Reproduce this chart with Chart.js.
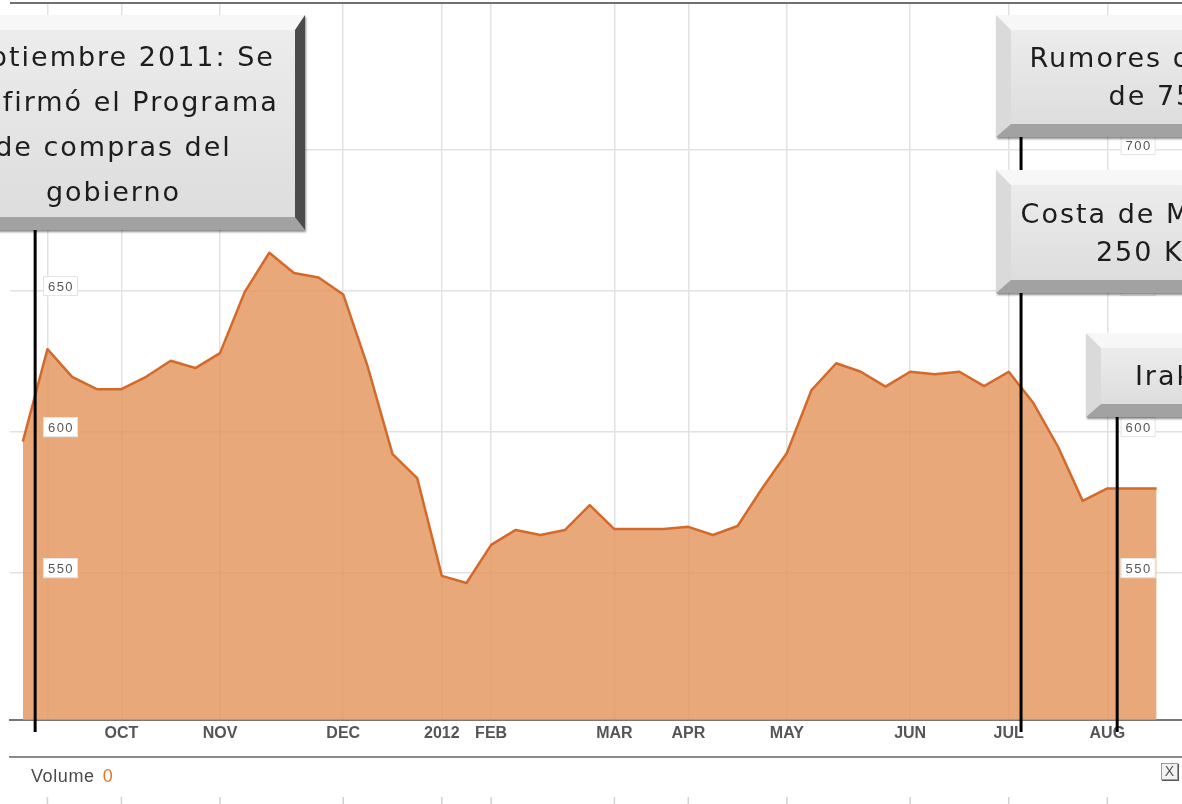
<!DOCTYPE html>
<html>
<head>
<meta charset="utf-8">
<script src="https://cdn.jsdelivr.net/npm/chart.js@4.4.1/dist/chart.umd.min.js"></script>
<style>
    html, body { margin: 0; padding: 0; background: #fff; }
    body { width: 1182px; height: 804px; overflow: hidden; position: relative; font-family: 'Liberation Sans', Arial, sans-serif; }
    #wrap { position: absolute; left: 0; top: 0; width: 1182px; height: 804px; }
    .note {
        position: absolute; box-sizing: border-box;
        display: flex; flex-direction: column; justify-content: center; align-items: center;
        text-align: center; white-space: nowrap;
        font-family: 'DejaVu Sans', sans-serif; font-size: 27px; letter-spacing: 2px; color: #1d1d1d;
        background: linear-gradient(#ececec, #dddddd);
        border-style: solid; border-width: 15px 10px 13px 15px;
        border-color: #f7f7f7 #4b4b4b #a2a2a2 #dadada;
        box-shadow: 1px 2px 2px rgba(0, 0, 0, 0.45);
    }
    .note div { white-space: nowrap; }
    #vol { position: absolute; left: 31px; top: 766px; font-size: 18px; letter-spacing: 0.6px; color: #4a4a4a; }
    #vol span { color: #e4772a; margin-left: 8px; }
    #close { position: absolute; left: 1161px; top: 763px; width: 15px; height: 15px; border: 1px solid #9a9a9a;
        box-shadow: 1px 1px 0 #555; background: #f2f2f2; color: #555; font-size: 14px; line-height: 15px; text-align: center; }
</style>
</head>
<body>
<div id="wrap"><canvas id="priceChart"></canvas></div>

<div class="note" style="left:-83px; top:15px; width:388px; height:215px; line-height:45px;">
    <div>Septiembre 2011: Se</div>
    <div>confirmó el Programa</div>
    <div>de compras del</div>
    <div>gobierno</div>
</div>
<div class="note" style="left:996px; top:15px; width:384px; height:122px; line-height:38px;">
    <div>Rumores de compras</div>
    <div>de 750 mil</div>
</div>
<div class="note" style="left:996px; top:170px; width:354px; height:123px; line-height:38px;">
    <div>Costa de Marfil pide</div>
    <div>250 K ton.</div>
</div>
<div class="note" style="left:1086px; top:333px; width:152px; height:84px; line-height:38px;">
    <div>Irak</div>
</div>

<div id="vol">Volume<span>0</span></div>
<div id="close">X</div>

<script>
// weekly closes, Sep 2011 - Aug 2012
const prices = [
    596.6, 629.4, 619.6, 615.2, 615.2, 619.6, 625.3, 622.7, 628.0, 649.6,
    663.6, 656.4, 654.8, 648.8, 623.0, 592.2, 583.7, 549.0, 546.5, 560.0,
    565.3, 563.5, 565.3, 574.1, 565.6, 565.6, 565.6, 566.4, 563.5, 566.7,
    580.1, 592.6, 614.9, 624.4, 621.4, 616.1, 621.4, 620.5, 621.4, 616.3,
    621.4, 610.3, 594.8, 575.6, 580.0, 580.0, 580.0
];

// month marks, in weeks from the first point
const monthTicks = [1, 4, 8, 13, 17, 19, 24, 27, 31, 36, 40, 44];
const monthLabels = ['', 'OCT', 'NOV', 'DEC', '2012', 'FEB', 'MAR', 'APR', 'MAY', 'JUN', 'JUL', 'AUG'];
const priceTicks = [550, 600, 650, 700];

// weeks the note boxes point at
const noteWeeks = [0.5, 40.5, 44.4];

const points = prices.map((p, i) => ({ x: i, y: p }));

// boxed price labels, lines, volume strip, connectors
const decorPlugin = {
    id: 'decor',
    afterDatasetsDraw(chart) {
        const { ctx, chartArea, scales } = chart;
        const xs = scales.x, ys = scales.y;
        const rightEdge = xs.getPixelForValue(prices.length - 1) - 1;
        ctx.save();
        ctx.font = '13px "Liberation Sans", Arial, sans-serif';
        if ('letterSpacing' in ctx) ctx.letterSpacing = '1.5px';
        ctx.textAlign = 'center';
        ctx.textBaseline = 'middle';
        priceTicks.forEach(v => {
            const y = ys.getPixelForValue(v) - 5;
            [chartArea.left + 33, rightEdge - 35].forEach(x0 => {
                ctx.fillStyle = '#fff';
                ctx.fillRect(x0, y - 10, 35, 20);
                ctx.strokeStyle = '#e3e3e3';
                ctx.lineWidth = 1;
                ctx.strokeRect(x0 + 0.5, y - 9.5, 34, 19);
                ctx.fillStyle = '#555';
                ctx.fillText(String(v), x0 + 18, y + 1);
            });
        });
        ctx.restore();
    },
    afterDraw(chart) {
        const { ctx, chartArea, scales } = chart;
        const xs = scales.x;
        ctx.save();
        // top frame
        ctx.strokeStyle = '#707070';
        ctx.lineWidth = 2;
        ctx.beginPath();
        ctx.moveTo(chartArea.left, chartArea.top - 1);
        ctx.lineTo(chartArea.right, chartArea.top - 1);
        ctx.stroke();
        // volume separator
        ctx.strokeStyle = '#8a8a8a';
        ctx.beginPath();
        ctx.moveTo(chartArea.left - 1, 757);
        ctx.lineTo(chartArea.right, 757);
        ctx.stroke();
        // volume grid stubs
        ctx.strokeStyle = '#d2d2d2';
        ctx.lineWidth = 1.5;
        monthTicks.forEach(w => {
            const x = xs.getPixelForValue(w);
            ctx.beginPath();
            ctx.moveTo(x, 797);
            ctx.lineTo(x, 804);
            ctx.stroke();
        });
        // connectors from note boxes
        const spans = [[230, 732], [137, 732], [417, 732]];
        ctx.strokeStyle = '#000';
        ctx.lineWidth = 3;
        noteWeeks.forEach((w, i) => {
            const x = xs.getPixelForValue(w);
            ctx.beginPath();
            ctx.moveTo(x, spans[i][0]);
            ctx.lineTo(x, spans[i][1]);
            ctx.stroke();
        });
        ctx.restore();
    }
};

const ctx = document.getElementById('priceChart').getContext('2d');
new Chart(ctx, {
    type: 'line',
    data: {
        datasets: [{
            data: points,
            borderColor: 'rgb(212, 106, 42)',
            backgroundColor: 'rgba(228, 149, 93, 0.82)',
            borderWidth: 2.5,
            borderJoinStyle: 'round',
            fill: 'start',
            tension: 0,
            pointRadius: 0
        }]
    },
    options: {
        responsive: true,
        maintainAspectRatio: false,
        animation: false,
        events: [],
        layout: { padding: { left: 10, right: 0, top: 4, bottom: 0 } },
        plugins: {
            legend: { display: false },
            tooltip: { enabled: false }
        },
        scales: {
            x: {
                type: 'linear',
                min: -0.52,
                max: 47.03,
                afterBuildTicks: s => { s.ticks = monthTicks.map(v => ({ value: v })); },
                afterFit: s => { s.height = 84; },
                grid: { color: '#e2e2e2', lineWidth: 1.5, drawTicks: false },
                border: { display: true, color: '#777', width: 2 },
                ticks: {
                    autoSkip: false,
                    maxRotation: 0,
                    minRotation: 0,
                    padding: 4,
                    color: '#555',
                    font: { family: '"Liberation Sans", Arial, sans-serif', size: 16, weight: 'bold' },
                    callback: (value, index) => monthLabels[index]
                }
            },
            y: {
                min: 497.9,
                max: 751.8,
                afterBuildTicks: s => { s.ticks = priceTicks.map(v => ({ value: v })); },
                afterFit: s => { s.width = 0; },
                grid: { color: '#e2e2e2', lineWidth: 1.5, drawTicks: false },
                border: { display: false },
                ticks: { display: false }
            }
        }
    },
    plugins: [decorPlugin]
});
</script>
</body>
</html>
